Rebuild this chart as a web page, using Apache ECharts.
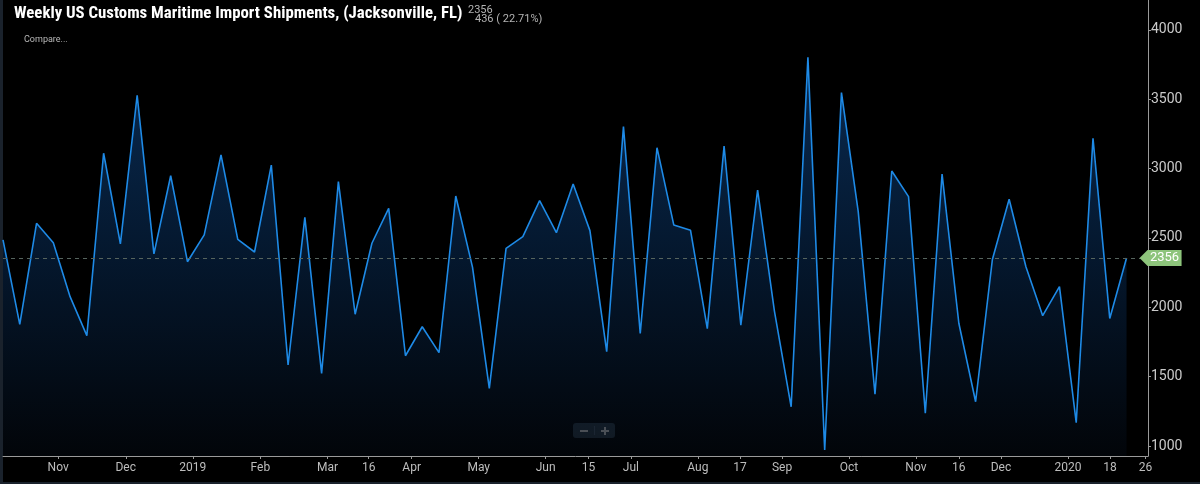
<!DOCTYPE html>
<html><head><meta charset="utf-8">
<script src="https://cdn.jsdelivr.net/npm/echarts@6/dist/echarts.min.js"></script>
<style>html,body{margin:0;padding:0;background:#000;}#c{width:1200px;height:484px;}</style>
</head><body><div id="c"></div>
<script>
// Weekly import shipments (index = week number, oldest first)
const weeklyShipments = [
  2486, 1877, 2606, 2466, 2077, 1796, 3111, 2457, 3529, 2385,
  2949, 2329, 2522, 3099, 2490, 2399, 3026, 1584, 2649, 1524,
  2906, 1950, 2462, 2714, 1651, 1860, 1673, 2803, 2288, 1416,
  2425, 2510, 2769, 2538, 2889, 2553, 1680, 3303, 1812, 3151,
  2594, 2555, 1846, 3163, 1872, 2846, 1975, 1283, 3803, 971,
  3548, 2690, 1373, 2983, 2798, 1236, 2961, 1885, 1319, 2345,
  2779, 2293, 1940, 2149, 1168, 3219, 1920, 2356
];
// x-axis date labels and the week position where each one sits
const tickLabels = ['Nov','Dec','2019','Feb','Mar','16','Apr','May','Jun','15','Jul','Aug','17','Sep','Oct','Nov','16','Dec','2020','18','26'];
const tickWeeks  = [3.29,7.32,11.32,15.35,19.35,21.81,24.37,28.37,32.36,34.91,37.44,41.44,43.95,46.46,50.45,54.44,57.0,59.51,63.51,66.02,68.13];
const yTicks = [1000,1500,2000,2500,3000,3500,4000];

const titleText = 'Weekly US Customs Maritime Import Shipments, (Jacksonville, FL)';
const last = weeklyShipments[weeklyShipments.length - 1];
const prev = weeklyShipments[weeklyShipments.length - 2];
const change = last - prev;
const pct = (change / prev * 100).toFixed(2);

function labelFor(v) {
  for (let i = 0; i < tickWeeks.length; i++) {
    if (Math.abs(tickWeeks[i] - v) < 1e-6) return tickLabels[i];
  }
  return '';
}

const chart = echarts.init(document.getElementById('c'));
chart.setOption({
  backgroundColor: '#000',
  animation: false,
  title: [
    { text: titleText, left: 14, top: 5, padding: 0,
      textStyle: { color: '#fff', fontSize: 16.8, fontWeight: 'bold',
        fontFamily: "'Roboto Condensed','Liberation Sans Narrow','DejaVu Sans Condensed',Roboto,sans-serif" } },
    { text: String(last), left: 468, top: 5, padding: 0,
      textStyle: { color: '#b4b4b4', fontSize: 11, fontWeight: 'normal', fontFamily: 'Roboto' } },
    { text: change + ' ( ' + pct + '%)', left: 475, top: 14, padding: 0,
      textStyle: { color: '#b4b4b4', fontSize: 11, fontWeight: 'normal', fontFamily: 'Roboto' } },
    { text: 'Compare...', left: 24, top: 35, padding: 0,
      textStyle: { color: '#b8b8b8', fontSize: 9, fontWeight: 'normal', fontFamily: 'Roboto' } }
  ],
  grid: { left: 3, right: 52, top: 0, bottom: 28, containLabel: false },
  xAxis: {
    type: 'value', min: 0, max: 68.28,
    axisLine: { show: true, onZero: false, lineStyle: { color: '#9a9a9a', width: 1 } },
    axisTick: { show: true, length: 3, customValues: tickWeeks, lineStyle: { color: '#9a9a9a' } },
    axisLabel: { show: true, customValues: tickWeeks, formatter: labelFor, color: '#bdbdbd',
      fontSize: 12, fontFamily: 'Roboto', margin: 6, hideOverlap: false },
    splitLine: { show: false }
  },
  yAxis: {
    type: 'value', position: 'right', min: 928, max: 4216,
    axisLine: { show: true, onZero: false, lineStyle: { color: '#9a9a9a', width: 1 } },
    axisTick: { show: true, length: 3, customValues: yTicks, lineStyle: { color: '#9a9a9a' } },
    axisLabel: { show: true, customValues: yTicks, formatter: v => String(v), color: '#cacaca',
      fontSize: 14, fontFamily: 'Roboto', margin: 3 },
    splitLine: { show: false }
  },
  series: [{
    type: 'line',
    data: weeklyShipments.map((v, i) => [i, v]),
    symbol: 'none',
    lineStyle: { color: '#1e8ae6', width: 1.6 },
    areaStyle: {
      color: new echarts.graphic.LinearGradient(0, 0, 0, 1, [
        { offset: 0, color: '#0d3d74' },
        { offset: 0.45, color: '#072446' },
        { offset: 1, color: '#03070d' }
      ])
    },
    markLine: {
      silent: true, symbol: 'none',
      label: { show: false },
      lineStyle: { color: '#56645e', type: [4, 4], width: 1 },
      data: [{ yAxis: last }]
    },
    markPoint: {
      silent: true,
      symbol: 'path://M0,8 L8,0 L42,0 L42,16 L8,16 Z',
      symbolSize: [42, 16],
      symbolOffset: [34, 0],
      itemStyle: { color: '#8dc47b' },
      label: { show: true, position: 'inside', offset: [4, 0], color: '#fff', fontSize: 13, fontFamily: 'Roboto',
        formatter: () => String(last) },
      data: [{ coord: [weeklyShipments.length - 1, last], value: last }]
    }
  }],
  graphic: [
    { type: 'rect', shape: { x: 0, y: 0, width: 3, height: 484 }, style: { fill: '#1a222c' }, silent: true },
    { type: 'rect', shape: { x: 0, y: 482, width: 1200, height: 2 }, style: { fill: '#1a222c' }, silent: true },
    { type: 'rect', shape: { x: 573, y: 423, width: 42, height: 15, r: 3 }, style: { fill: '#30414f' }, silent: true },
    { type: 'rect', shape: { x: 594, y: 426, width: 1, height: 9 }, style: { fill: '#52657a' }, silent: true },
    { type: 'rect', shape: { x: 580, y: 430, width: 8, height: 2 }, style: { fill: '#eeeeee' }, silent: true },
    { type: 'rect', shape: { x: 601, y: 430, width: 8, height: 2 }, style: { fill: '#eeeeee' }, silent: true },
    { type: 'rect', shape: { x: 604, y: 427, width: 2, height: 8 }, style: { fill: '#eeeeee' }, silent: true }
  ]
});
</script>
</body></html>
